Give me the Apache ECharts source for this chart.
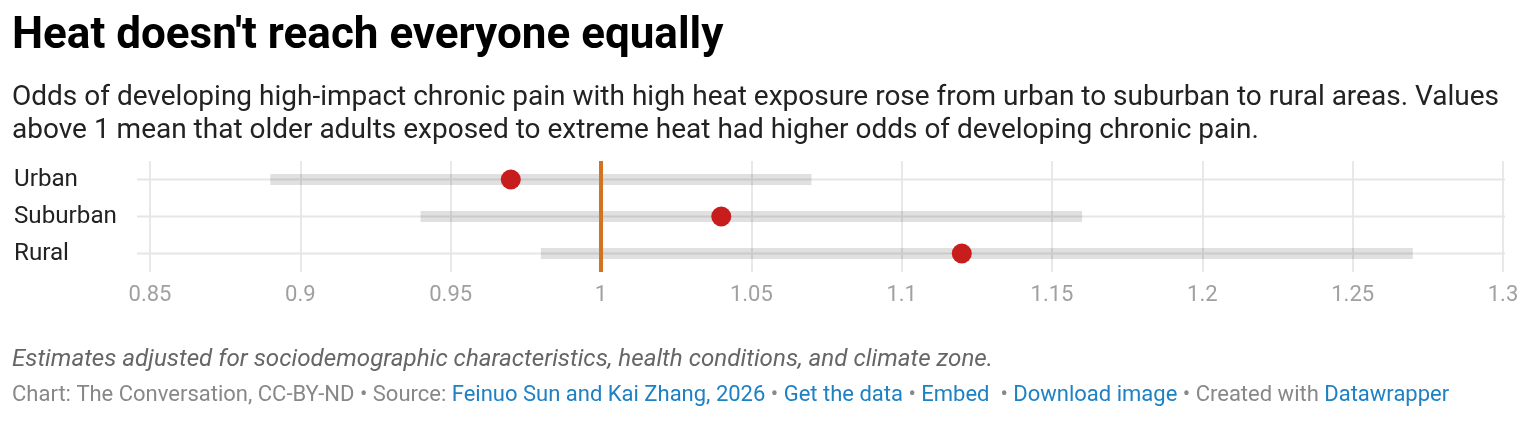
<!DOCTYPE html>
<html>
<head>
<meta charset="utf-8">
<script src="https://cdn.jsdelivr.net/npm/echarts@6/dist/echarts.min.js"></script>
<style>
  html, body { margin: 0; padding: 0; background: #fff; }
  #chart { width: 1522px; height: 424px; }
</style>
</head>
<body>
<div id="chart"></div>
<script>
// areas, top to bottom
const areas = ['Urban', 'Suburban', 'Rural'];
// odds ratio estimates and 95% CI
const estimates = [0.97, 1.04, 1.12];
const ciLow = [0.89, 0.94, 0.98];
const ciHigh = [1.07, 1.16, 1.27];
const refValue = 1;

const chart = echarts.init(document.getElementById('chart'));

// custom series data: [row, low, high]
const ciData = areas.map((a, i) => [i, ciLow[i], ciHigh[i]]);
const dotData = areas.map((a, i) => [estimates[i], a]);

function renderRange(params, api) {
  const cs = params.coordSys;
  const y = api.coord([0.85, api.value(0)])[1];
  const x0 = api.coord([api.value(1), api.value(0)])[0];
  const x1 = api.coord([api.value(2), api.value(0)])[0];
  return {
    type: 'group',
    children: [
      {
        type: 'line',
        shape: { x1: cs.x - 13, y1: y, x2: cs.x + cs.width + 2, y2: y },
        style: { stroke: '#e6e6e6', lineWidth: 2 }
      },
      {
        type: 'rect',
        shape: { x: x0, y: y - 5.5, width: x1 - x0, height: 11 },
        style: { fill: 'rgba(0,0,0,0.12)' }
      }
    ]
  };
}

const font = 'Roboto, "Noto Sans", sans-serif';

chart.setOption({
  animation: false,
  textStyle: { fontFamily: font },
  title: [
    {
      text: "Heat doesn't reach everyone equally",
      left: 12, top: 13, padding: 0,
      textStyle: { fontSize: 44, fontWeight: 'bold', color: '#000', fontFamily: font, lineHeight: 48 }
    },
    {
      text: 'Odds of developing high-impact chronic pain with high heat exposure rose from urban to suburban to rural areas. Values\nabove 1 mean that older adults exposed to extreme heat had higher odds of developing chronic pain.',
      left: 12, top: 81, padding: 0,
      textStyle: { fontSize: 28, fontWeight: 'normal', color: '#222', fontFamily: font, lineHeight: 33 }
    },
    {
      text: 'Estimates adjusted for sociodemographic characteristics, health conditions, and climate zone.',
      left: 12, top: 346, padding: 0,
      textStyle: { fontSize: 24.2, fontWeight: 'normal', fontStyle: 'italic', color: '#666', fontFamily: font, lineHeight: 28 }
    },
    {
      text: '{g|Chart: The Conversation, CC-BY-ND • Source: }{b|Feinuo Sun and Kai Zhang, 2026}{g| • }{b|Get the data}{g| • }{b|Embed}{g|  • }{b|Download image}{g| • Created with }{b|Datawrapper}',
      left: 12, top: 382, padding: 0,
      textStyle: {
        fontSize: 22, fontWeight: 'normal', fontFamily: font, lineHeight: 26,
        rich: {
          g: { fontSize: 22, fontWeight: 'normal', color: '#888', fontFamily: font, lineHeight: 26 },
          b: { fontSize: 22, fontWeight: 'normal', color: '#1d81c4', fontFamily: font, lineHeight: 26 }
        }
      }
    }
  ],
  grid: { left: 150, right: 19, top: 161, height: 111, containLabel: false },
  xAxis: {
    type: 'value',
    min: 0.85, max: 1.3, interval: 0.05,
    axisLine: { show: false },
    axisTick: { show: false },
    splitLine: { show: true, lineStyle: { color: '#e8e8e8', width: 2 } },
    axisLabel: { fontSize: 22, color: '#a0a0a0', margin: 12, fontFamily: font }
  },
  yAxis: {
    type: 'category',
    data: areas,
    inverse: true,
    axisLine: { show: false },
    axisTick: { show: false },
    splitLine: { show: false },
    axisLabel: { fontSize: 24.2, color: '#222', align: 'left', margin: 136, padding: [7, 0, 0, 0], fontFamily: font }
  },
  series: [
    {
      type: 'custom',
      z: 2,
      renderItem: renderRange,
      data: ciData,
      encode: { x: [1, 2], y: 0 }
    },
    {
      type: 'line',
      z: 3,
      data: [],
      markLine: {
        silent: true,
        symbol: 'none',
        label: { show: false },
        lineStyle: { color: '#d4731f', width: 4, type: 'solid' },
        data: [{ xAxis: refValue }]
      }
    },
    {
      type: 'scatter',
      z: 4,
      symbol: 'circle',
      symbolSize: 20,
      itemStyle: { color: '#c71e1d', opacity: 1 },
      data: dotData
    }
  ]
});
</script>
</body>
</html>
